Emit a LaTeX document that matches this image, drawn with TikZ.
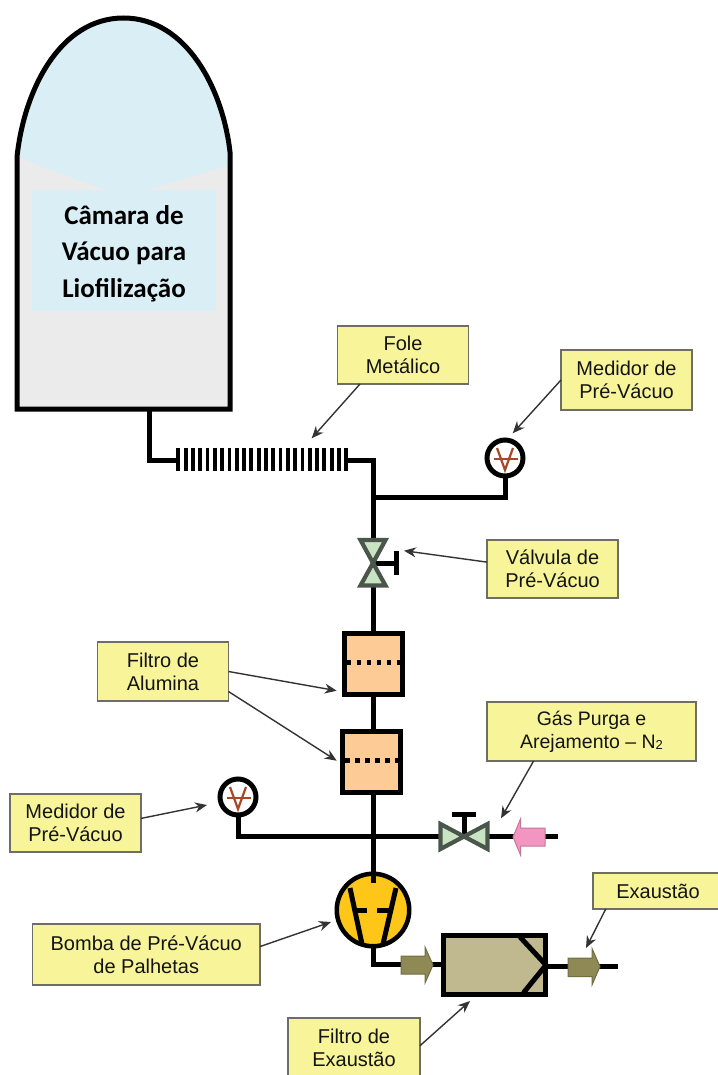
\documentclass[tikz,border=0pt]{standalone}
\usepackage{fontspec}
\setmainfont{Liberation Sans}
\newfontfamily\chamberfont{Carlito}
\usepackage{xcolor}
\definecolor{chamberGrey}{HTML}{EBEBEB}
\definecolor{chamberBlue}{HTML}{D9EEF5}
\definecolor{labelYellow}{HTML}{F8F49A}
\definecolor{labelEdge}{HTML}{6E6E64}
\definecolor{filterOrange}{HTML}{FDCB95}
\definecolor{pumpYellow}{HTML}{FFC61A}
\definecolor{gaugeRed}{HTML}{A8482A}
\definecolor{valveGreen}{HTML}{C9E4C3}
\definecolor{valveEdge}{HTML}{4A564C}
\definecolor{purgePink}{HTML}{F295C0}
\definecolor{exhaustOlive}{HTML}{8F8A55}
\definecolor{exhaustTan}{HTML}{C0B98F}
\usetikzlibrary{arrows.meta, positioning, calc}

\begin{document}
\begin{tikzpicture}[
    x=1pt, y=-1pt,
    every node/.style={outer sep=0pt, inner sep=0pt},
    pipe/.style={draw=black, line width=5pt, line join=miter},
    bar/.style={draw=black, line width=3.8pt},
    lbl/.style={draw=labelEdge, fill=labelYellow, line width=1.4pt, align=center, minimum width=131pt, minimum height=59pt, font=\fontsize{20}{23}\selectfont, text=black!92},
    lblLine/.style={draw=black!80, line width=1.4pt, -{Stealth[length=12pt, width=10pt]}},
    gauge/.style={circle, draw=black, fill=white, line width=5pt, minimum size=36pt},
    gaugeMark/.style={draw=gaugeRed, line width=2.2pt},
    filterBox/.style={rectangle, draw=black, fill=filterOrange, line width=5pt, minimum width=58pt, minimum height=61pt},
    filterDots/.style={draw=black, line width=4.5pt, dash pattern=on 4.5pt off 5.5pt},
    valveTri/.style={draw=valveEdge, fill=valveGreen, line width=4.2pt, line join=miter},
    flowTip/.style={line width=1pt, line join=miter},
]
    \useasboundingbox (0,0) rectangle (717,1075);

    % Chamber
    \fill [chamberGrey] (17,157) rectangle (230,409);
    \fill [chamberBlue] (17,157) .. controls (24,90) and (60,18) .. (123.5,18) .. controls (187,18) and (223,90) .. (230,155) -- (230,165) -- (147,190) -- (105,190) -- cycle;
    \node (chamber_box) [fill=chamberBlue, minimum width=184pt, minimum height=121pt] at (124,250.5) {};
    \node (chamber_txt) [align=center, font=\chamberfont\bfseries\fontsize{27}{36.5}\selectfont] at (124,253.5) {Câmara de\\Vácuo para\\Liofilização};
    \draw [pipe] (17,157) .. controls (24,90) and (60,18) .. (123.5,18) .. controls (187,18) and (223,90) .. (230,152) -- (230,409) -- (17,409) -- cycle;
    \coordinate (chamber_out) at (149,409);

    % Bellows
    \node (bellows) [minimum width=169pt, minimum height=23pt] at (262.5,460) {};
    \foreach \i in {0,...,23}
        \draw [bar] ({178.3+\i*7.3},447.5) -- ({178.3+\i*7.3},471);

    % Valve, filters and pump along the main line
    \coordinate (valve_pre) at (373,563);
    \node (filtroA) [filterBox] at (373.3,664) {};
    \node (filtroB) [filterBox, below=37pt of filtroA, xshift=-1.6pt] {};
    \node (pump) [circle, draw=black, fill=pumpYellow, line width=4.5pt, minimum size=72.5pt] at (373,910) {};
    \node (gaugeA) [gauge] at (505,458) {};
    \node (gaugeB) [gauge] at (238,797) {};
    \coordinate (joint_top) at (373,497);
    \coordinate (joint_low) at (373,836.5);
    \coordinate (valve_gas) at (464,836.5);
    \coordinate (exh_end) at (618,966);
    \node (exh_filter) [rectangle, draw=black, fill=exhaustTan, line width=5pt, minimum width=102pt, minimum height=59pt] at (494.5,964.7) {};

    % Pipes
    \draw [pipe] (chamber_out) |- (bellows.west);
    \draw [pipe] (bellows.east) -| (valve_pre);
    \draw [pipe] (joint_top) -| (gaugeA.south);
    \draw [pipe] (valve_pre) -- (filtroA.north -| valve_pre);
    \draw [pipe] (filtroA.south -| valve_pre) -- (filtroB.north -| valve_pre);
    \draw [pipe] (filtroB.south -| joint_low) -- (pump.north);
    \draw [pipe] (gaugeB.south) |- (joint_low) -- (valve_gas);
    \draw [pipe] (valve_gas) -- (558,836.5);
    \draw [pipe] (pump.south) |- (exh_filter.west);
    \draw [pipe] (exh_filter.east |- exh_end) -- (exh_end);

    % Gauge marks
    \foreach \g in {gaugeA, gaugeB} {
        \draw [gaugeMark] ($(\g)+(-11,1)$) -- ($(\g)+(13,1)$);
        \draw [gaugeMark] ($(\g)+(-8,-10)$) -- ($(\g)+(0,12)$) -- ($(\g)+(8,-10)$);
    }

    % Filter screens
    \foreach \f in {filtroA, filtroB}
        \draw [filterDots] ($(\f.west)+(2.4,-1.3)$) -- ($(\f.east)+(-1,-1.3)$);

    % Pre-vacuum valve
    \draw [pipe] (valve_pre) -- ++(23,0);
    \draw [pipe] (396,551) -- (396,575);
    \draw [valveTri] (valve_pre) -- ++(-12.5,-23) -- ++(25,0) -- cycle;
    \draw [valveTri] (valve_pre) -- ++(-12.5,22.5) -- ++(25,0) -- cycle;

    % Gas valve
    \draw [pipe] (valve_gas) -- ++(0,-22);
    \draw [pipe] (452,814.5) -- (476,814.5);
    \draw [valveTri] (valve_gas) -- ++(-23.5,-12.5) -- ++(0,25) -- cycle;
    \draw [valveTri] (valve_gas) -- ++(23.5,-12.5) -- ++(0,25) -- cycle;

    % Flow arrows
    \draw [flowTip, draw=purgePink!80!black, fill=purgePink] (513,837) -- (520.5,819) -- (520.5,828) -- (545,828) -- (545,846) -- (520.5,846) -- (520.5,855) -- cycle;
    \draw [flowTip, draw=exhaustOlive!80!black, fill=exhaustOlive] (401,956) -- (425,956) -- (425,947) -- (433,965) -- (425,983) -- (425,974) -- (401,974) -- cycle;
    \draw [flowTip, draw=exhaustOlive!80!black, fill=exhaustOlive] (568,958) -- (592,958) -- (592,948.5) -- (600,966.5) -- (592,985) -- (592,976.5) -- (568,976.5) -- cycle;

    % Pump vanes
    \draw [pipe] (pump.north) -- ++(0,9);
    \draw [pipe] (350,888) -- (362,944);
    \draw [pipe] (396,888) -- (383,944);
    \draw [pipe] (357,910) -- (367,910);
    \draw [pipe] (377,910) -- (389,910);

    % Exhaust filter corners
    \draw [pipe] (520,937) -- (546,965) -- (523.3,993);

    % Labels
    \node (fole_lbl) [lbl, minimum height=58pt] at (403,355) {Fole\\Metálico};
    \node (medA_lbl) [lbl, minimum height=60pt] at (626.5,380) {Medidor de\\Pré-Vácuo};
    \node (valv_lbl) [lbl, minimum height=58pt] at (552.5,569) {Válvula de\\Pré-Vácuo};
    \node (filt_lbl) [lbl] at (163,671.5) {Filtro de\\Alumina};
    \node (gas_lbl) [lbl, minimum width=209pt, font=\fontsize{19.5}{23}\selectfont] at (591.5,731.5) {Gás Purga e\\Arejamento – N\raisebox{-1.5pt}{\fontsize{13}{13}\selectfont 2}};
    \node (medB_lbl) [lbl, minimum height=58pt] at (75.5,823) {Medidor de\\Pré-Vácuo};
    \node (bomba_lbl) [lbl, minimum width=227.5pt, minimum height=61pt] at (146.25,954.5) {Bomba de Pré-Vácuo\\de Palhetas};
    \node (exh_lbl) [lbl, minimum width=130pt, minimum height=36pt] at (658,891) {Exaustão};
    \node (fexh_lbl) [lbl, minimum width=132pt, minimum height=60pt] at (354,1048) {Filtro de\\Exaustão};

    % Free ends of the label lines
    \coordinate (fole_tip) at (311.7,438.3);
    \coordinate (medA_tip) at (512.7,433.3);
    \coordinate (valv_tip) at (404,550.7);
    \coordinate (filtA_tip) at (336.7,690.7);
    \coordinate (filtB_tip) at (336.7,760.7);
    \coordinate (medB_tip) at (207,805);
    \coordinate (gas_tip) at (501,818.3);
    \coordinate (bomba_tip) at (331,922);
    \coordinate (exh_tip) at (586,948);
    \coordinate (fexh_tip) at (470,1001);

    % Label lines
    \draw [lblLine] (fole_lbl.214) -- (fole_tip);
    \draw [lblLine] (medA_lbl.west) -- (medA_tip);
    \draw [lblLine] (valv_lbl.174) -- (valv_tip);
    \draw [lblLine] (filt_lbl.east) -- (filtA_tip);
    \draw [lblLine] (filt_lbl.-17) -- (filtB_tip);
    \draw [lblLine] (medB_lbl.4) -- (medB_tip);
    \draw [lblLine] (gas_lbl.207) -- (gas_tip);
    \draw [lblLine] (bomba_lbl.4) -- (bomba_tip);
    \draw [lblLine] (exh_lbl.199) -- (exh_tip);
    \draw [lblLine] (fexh_lbl.2) -- (fexh_tip);
\end{tikzpicture}
\end{document}
